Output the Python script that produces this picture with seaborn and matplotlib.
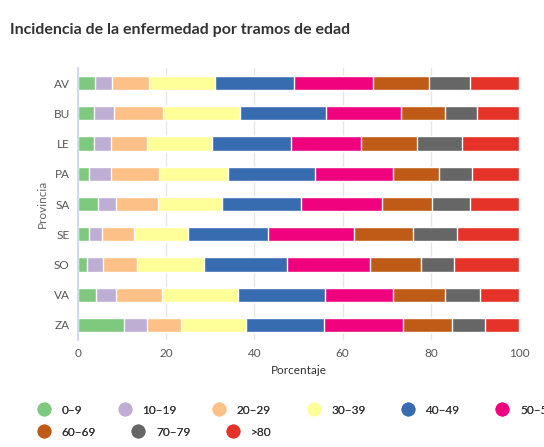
import matplotlib
matplotlib.use("Agg")
import matplotlib.pyplot as plt
import seaborn as sns
import numpy as np
import pandas as pd
from matplotlib.lines import Line2D

provincias = ["AV", "BU", "LE", "PA", "SA", "SE", "SO", "VA", "ZA"]
tramos = ["0–9", "10–19", "20–29", "30–39", "40–49", "50–59", "60–69", "70–79", ">80"]
valores = {
    "AV": [3.9, 3.8, 8.3, 15.1, 17.8, 18.0, 12.7, 9.3, 11.1],
    "BU": [3.6, 4.6, 11.0, 17.6, 19.4, 17.0, 10.0, 7.3, 9.5],
    "LE": [3.6, 3.9, 8.1, 14.7, 17.9, 16.0, 12.7, 10.2, 12.9],
    "PA": [2.6, 4.9, 10.8, 15.8, 19.6, 17.7, 10.5, 7.5, 10.6],
    "SA": [4.5, 4.1, 9.5, 14.6, 17.9, 18.3, 11.4, 8.6, 11.1],
    "SE": [2.4, 3.0, 7.2, 12.4, 18.1, 19.5, 13.3, 10.0, 14.1],
    "SO": [2.0, 3.7, 7.6, 15.3, 18.8, 18.8, 11.6, 7.5, 14.7],
    "VA": [4.1, 4.5, 10.4, 17.3, 19.7, 15.4, 11.8, 8.0, 8.8],
    "ZA": [10.4, 5.3, 7.7, 14.8, 17.6, 17.9, 11.1, 7.5, 7.7],
}
colores = ["#7fc97f", "#beaed4", "#fdc086", "#ffff99", "#386cb0",
           "#f0027f", "#bf5b17", "#666666", "#e5332a"]

sns.set_theme(style="whitegrid")
plt.rcParams['font.family'] = ['Lato', 'DejaVu Sans']

df = pd.DataFrame(valores, index=tramos).T
tot = df.sum(axis=1)
df = df.div(tot, axis=0) * 100
cum = df.cumsum(axis=1)

fig = plt.figure(figsize=(5.44, 4.47), dpi=100)
ax = fig.add_axes([78/544, 1-340/447, 441/544, 272/447])
for i in range(len(tramos) - 1, -1, -1):
    d = pd.DataFrame({"prov": provincias, "v": cum.iloc[:, i].values})
    sns.barplot(data=d, x="v", y="prov", order=provincias, color=colores[i],
                orient="h", width=0.47, edgecolor="white", linewidth=1,
                saturation=1, ax=ax)
ax.set_xlim(0, 100)
ax.set_xticks([0, 20, 40, 60, 80, 100])
ax.grid(axis="y", visible=False)
ax.grid(axis="x", color="#e6e6e6", linewidth=1)
for s in ["top", "right", "bottom"]:
    ax.spines[s].set_visible(False)
ax.spines["left"].set_visible(True)
ax.spines["left"].set_color("#ccd6eb")
ax.tick_params(axis="both", labelsize=8.5, colors="#555555", length=0, pad=6)
ax.set_yticks(range(len(provincias)))
ax.set_yticklabels(provincias)
ax.set_xlabel("Porcentaje", fontsize=8.5, color="#333333")
ax.set_ylabel("Provincia", fontsize=8.5, color="#666666")
ax.set_axisbelow(True)

fig.text(10/544, 1-30/447, "Incidencia de la enfermedad por tramos de edad",
         fontsize=11.5, fontweight="bold", color="#333333", va="center")

def mk(c):
    return Line2D([], [], marker="o", linestyle="none", markersize=9,
                  markerfacecolor=c, markeredgecolor=c)

rows = [(0, 6, 1-410/447), (6, 9, 1-432/447)]
for a, b, y in rows:
    leg = fig.legend([mk(c) for c in colores[a:b]], tramos[a:b],
                     loc="center left", bbox_to_anchor=(32/544, y),
                     ncol=b - a, frameon=False, fontsize=8.5,
                     handletextpad=0.5, columnspacing=2.6,
                     labelcolor="#333333", borderpad=0, borderaxespad=0)
    fig.add_artist(leg)
fig.savefig("out.png", dpi=100, facecolor="white")
